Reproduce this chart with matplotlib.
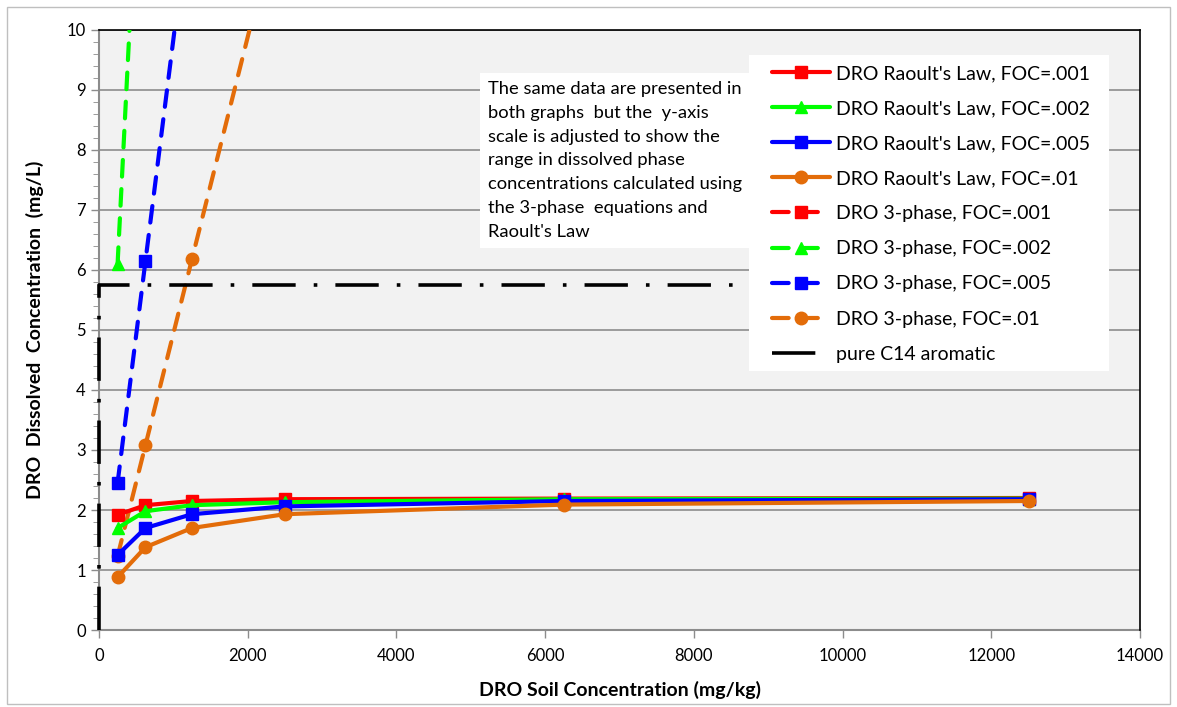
import matplotlib.pyplot as plt
from matplotlib.patches import Rectangle

plt.rcParams['font.family'] = ['Lato', 'DejaVu Sans']

soil = [250, 625, 1250, 2500, 6250, 12500]

# Raoult's Law results (mg/L)
raoult_001 = [1.92, 2.08, 2.15, 2.18, 2.19, 2.20]
raoult_002 = [1.70, 1.98, 2.08, 2.13, 2.18, 2.19]
raoult_005 = [1.25, 1.70, 1.93, 2.06, 2.15, 2.18]
raoult_01 = [0.88, 1.38, 1.70, 1.93, 2.09, 2.15]

# 3-phase results (mg/L), most points sit above the y-axis range
phase_001 = [12.2, 30.5, 61.0, 122.0, 305.0, 610.0]
phase_002 = [6.10, 15.25, 30.5, 61.0, 152.5, 305.0]
phase_005 = [2.45, 6.15, 12.3, 24.6, 61.5, 123.0]
phase_01 = [1.23, 3.08, 6.18, 12.35, 30.9, 61.8]

# solubility of pure C14 aromatic (line ends under the legend)
c14_x = [0, 0, 10000]
c14_y = [0, 5.75, 5.75]

colors = {'001': '#ff0000', '002': '#00ff00', '005': '#0000ff', '01': '#e36c09'}

fig = plt.figure(figsize=(11.77, 7.07), dpi=100)
fig.patches.append(Rectangle((0.006, 0.004), 0.988, 0.986, transform=fig.transFigure,
                             fill=False, edgecolor='#bfbfbf', lw=1))
ax = fig.add_axes([0.0841, 0.1089, 0.8845, 0.8487])
ax.set_facecolor('#f2f2f2')

solid = [('001', raoult_001, 's', '.001'), ('002', raoult_002, '^', '.002'),
         ('005', raoult_005, 's', '.005'), ('01', raoult_01, 'o', '.01')]
dashed = [('001', phase_001, 's', '.001'), ('002', phase_002, '^', '.002'),
          ('005', phase_005, 's', '.005'), ('01', phase_01, 'o', '.01')]

for key, vals, mk, lab in solid:
    ax.plot(soil, vals, color=colors[key], lw=3, marker=mk, markersize=9,
            solid_capstyle='round', label="DRO Raoult's Law, FOC=" + lab, zorder=4)

for key, vals, mk, lab in dashed:
    ax.plot(soil, vals, color=colors[key], lw=3, marker=mk, markersize=9,
            linestyle=(0, (4, 3)), dash_capstyle='round',
            label='DRO 3-phase, FOC=' + lab, zorder=3)

ax.plot(c14_x, c14_y, color='black', lw=2.6, linestyle=(0, (12, 5, 1, 5)),
        label='pure C14 aromatic', zorder=3, clip_on=False)

ax.set_xlim(0, 14000)
ax.set_ylim(0, 10)
ax.set_xticks(range(0, 14001, 2000))
ax.set_yticks(range(0, 11))
ax.set_yticks([i * 0.2 for i in range(51)], minor=True)
ax.grid(axis='y', color='#8c8c8c', lw=1.2)
ax.set_axisbelow(True)
ax.tick_params(axis='both', labelsize=12, color='#8c8c8c', length=6, width=1)
ax.tick_params(axis='y', which='minor', color='#8c8c8c', length=4)
ax.tick_params(axis='x', pad=7)

for s in ['left', 'bottom']:
    ax.spines[s].set_color('#8c8c8c')
    ax.spines[s].set_linewidth(1.5)
    ax.spines[s].set_zorder(2)
for s in ['top', 'right']:
    ax.spines[s].set_color('black')
    ax.spines[s].set_linewidth(1.2)

ax.set_xlabel('DRO Soil Concentration (mg/kg)', fontsize=14, fontweight='bold', labelpad=12)
ax.set_ylabel('DRO  Dissolved  Concentration  (mg/L)', fontsize=14, fontweight='bold', labelpad=16)

# white legend panel
ax.add_patch(Rectangle((0.6244, 0.4317), 0.3458, 0.5266, transform=ax.transAxes,
                       facecolor='white', edgecolor='none', zorder=5.5))
leg = ax.legend(loc='upper left', bbox_to_anchor=(0.6465, 0.9417), fontsize=14,
                frameon=False, handlelength=3.0, labelspacing=0.93, borderpad=0,
                borderaxespad=0, handletextpad=0.3)
leg.set_zorder(6)

ax.text(0.374, 0.915,
        "The same data are presented in\nboth graphs  but the  y-axis\nscale is adjusted to show the\n"
        "range in dissolved phase\nconcentrations calculated using\nthe 3-phase  equations and\nRaoult's Law",
        transform=ax.transAxes, fontsize=13.2, va='top', ha='left', linespacing=1.6,
        bbox=dict(facecolor='white', edgecolor='none', boxstyle='square,pad=0.45'), zorder=5)

plt.savefig('out.png', dpi=100)
